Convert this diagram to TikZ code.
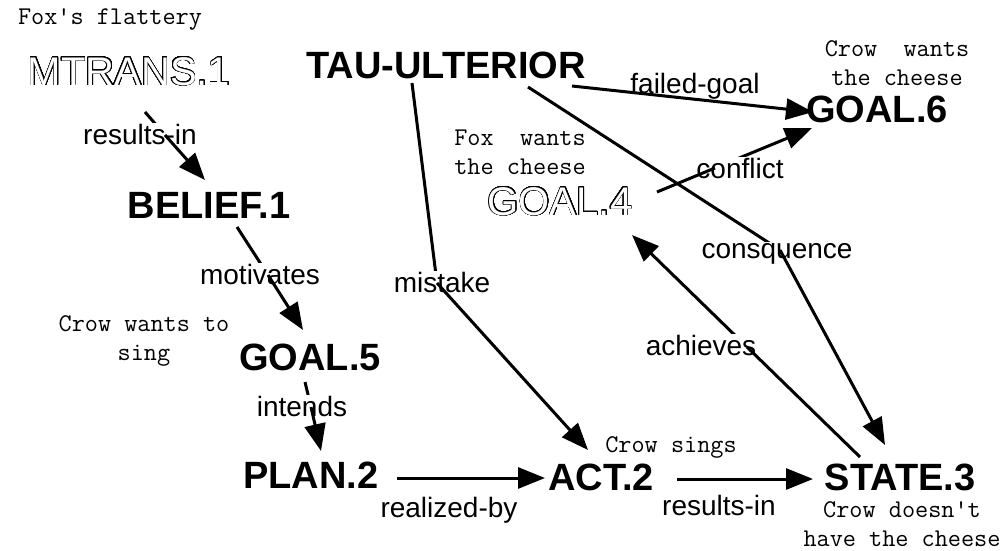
\documentclass[tikz,border=0pt]{standalone}
\usepackage{fontspec}
\usepackage{contour}
\usetikzlibrary{arrows.meta, calc}
\newfontfamily\helv{Liberation Sans}
\contourlength{0.75pt}

\tikzset{
  concept/.style={font=\helv\bfseries\fontsize{38}{40}\selectfont, inner sep=0pt, anchor=base},
  hollow/.style={font=\helv\fontsize{40}{42}\selectfont, inner sep=0pt, anchor=base, text=white},
  rel/.style={font=\helv\fontsize{28}{30}\selectfont, inner sep=1pt, anchor=base, fill=white},
  gloss/.style={font=\ttfamily\fontsize{25.5}{29}\selectfont, inner sep=0pt, align=center},
  rline/.style={line width=3pt},
  rarrow/.style={rline, -{Triangle[length=27pt,width=21pt]}},
}

\begin{document}
\begin{tikzpicture}[x=1pt, y=-1pt]
	\useasboundingbox (0,0) rectangle (1005,551);

	% concepts
	\node[hollow] (mtrans) at (129,85) {\contour[32]{black}{MTRANS.1}};
	\node[concept] (tau) at (446,78) {TAU-ULTERIOR};
	\node[concept] (belief) at (209,218) {BELIEF.1};
	\node[concept] (goal5) at (310,370) {GOAL.5};
	\node[concept] (plan) at (311,488) {PLAN.2};
	\node[concept] (act) at (601,490) {ACT.2};
	\node[concept] (state) at (900,490) {STATE.3};
	\node[hollow] (goal4) at (560,215) {\contour[32]{black}{GOAL.4}};
	\node[concept] (goal6) at (877,123) {GOAL.6};

	% glosses
	\node[gloss] (g-mtrans) at (110,20) {Fox's flattery};
	\node[gloss] (g-goal6) at (897,63) {Crow~~wants\\the cheese};
	\node[gloss] (g-goal4) at (520,152) {Fox~~wants\\the cheese};
	\node[gloss] (g-goal5) at (144,341) {Crow wants to\\sing};
	\node[gloss] (g-act) at (671,447) {Crow sings};
	\node[gloss] (g-state) at (902,524) {Crow doesn't\\have the cheese};

	% results-in
	\coordinate (j-res) at (165,135);
	\draw[rline] ($(mtrans.base)+(16,27)$) -- (j-res);
	\node[rel] (l-res) at (140,144) {results-in};
	\draw[rarrow] (j-res) -- ($(belief.base)+(-4,-38)$);

	% motivates
	\coordinate (j-mot) at (268,275);
	\draw[rline] ($(belief.base)+(28,9)$) -- (j-mot);
	\node[rel] (l-mot) at (260,284) {motivates};
	\draw[rarrow] (j-mot) -- ($(goal5.base)+(-7,-40)$);

	% intends
	\coordinate (j-int) at (311,407);
	\draw[rline] ($(goal5.base)+(-5,12)$) -- (j-int);
	\node[rel] (l-int) at (302,416) {intends};
	\draw[rarrow] (j-int) -- ($(plan.base)+(10,-37)$);

	% realized-by, results-in
	\draw[rarrow] ($(plan.base)+(86,-10)$) -- ($(act.base)+(-56,-12)$);
	\node[rel] (l-real) at (449,517) {realized-by};
	\draw[rarrow] ($(act.base)+(76,-11)$) -- ($(state.base)+(-87,-11)$);
	\node[rel] (l-res2) at (719,515) {results-in};

	% failed-goal
	\node[rel, fill=none] (l-fail) at (695,93) {failed-goal};
	\draw[rarrow] ($(tau.base)+(126,8)$) -- ($(goal6.base)+(-64,-11)$);

	% mistake
	\coordinate (j-mis) at (437,283);
	\draw[rline] ($(tau.base)+(-34,5)$) -- (j-mis);
	\node[rel] (l-mis) at (442,292) {mistake};
	\draw[rarrow] (j-mis) -- ($(act.base)+(-13,-40)$);

	% consquence
	\coordinate (j-con) at (780,250);
	\draw[rline] ($(tau.base)+(82,9)$) -- (j-con);
	\node[rel] (l-con) at (777,258) {consquence};
	\draw[rarrow] (j-con) -- ($(state.base)+(-15,-45)$);

	% conflict
	\coordinate (j-cfl) at (715,168);
	\draw[rarrow] (j-cfl) -- ($(goal6.base)+(-65,5)$);
	\node[rel] (l-cfl) at (740,178) {conflict};
	\draw[rline] ($(goal4.base)+(97,-23)$) -- (j-cfl);

	% achieves
	\coordinate (j-ach) at (747,347);
	\draw[rarrow] (j-ach) -- ($(goal4.base)+(72,20)$);
	\node[rel] (l-ach) at (701,355) {achieves};
	\draw[rline] ($(state.base)+(-40,-33)$) -- (j-ach);
\end{tikzpicture}
\end{document}
